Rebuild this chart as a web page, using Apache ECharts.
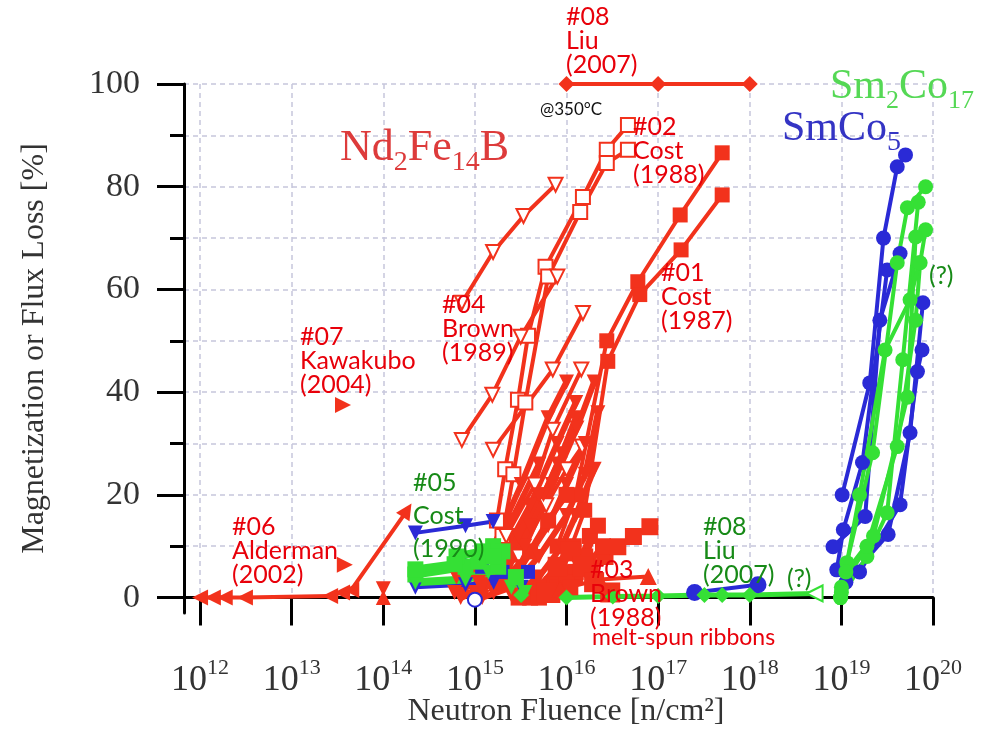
<!DOCTYPE html>
<html>
<head>
<meta charset="utf-8">
<script src="https://cdn.jsdelivr.net/npm/echarts@6/dist/echarts.min.js"></script>
<style>
  html, body { margin: 0; padding: 0; background: #fff; }
  #chart { width: 999px; height: 734px; }
</style>
</head>
<body>
<div id="chart"></div>
<script>
// axis ticks
const xTicks = [1e12, 1e13, 1e14, 1e15, 1e16, 1e17, 1e18, 1e19, 1e20]
const yTicks = [0, 10, 20, 30, 40, 50, 60, 70, 80, 90, 100]
const yLabels = [0, 20, 40, 60, 80, 100]

// Nd2Fe14B  [fluence n/cm2, loss %]
const liu07Nd = [[1e16, 100], [1e17, 100], [1e18, 100]]
const cost87A = [[7.9e15, 10], [1.26e16, 20], [2.75e16, 50], [6.0e16, 61.5], [1.74e17, 74.5], [5.0e17, 86.6]]
const cost87B = [[8.9e15, 5], [1.58e16, 17], [2.82e16, 46], [6.3e16, 59], [1.78e17, 67.7], [5.0e17, 78.4]]
const cost87C = [[4.0e15, 1], [7.0e15, 2.5], [1.23e16, 4.1], [1.82e16, 6.0], [2.63e16, 8.0], [3.63e16, 9.9], [5.37e16, 11.9], [8.13e16, 13.8]]
const cost88A = [[1.74e15, 15], [2.14e15, 25], [2.95e15, 38.5], [3.8e15, 51], [5.9e15, 64.4], [1.51e16, 78], [2.75e16, 87.2], [4.68e16, 92]]
const cost88B = [[2.0e15, 12], [2.63e15, 24], [3.55e15, 38], [6.3e15, 62.5], [1.41e16, 75.1], [2.75e16, 84.6], [4.68e16, 87.2]]
const brown89A = [[7.2e14, 57.4], [1.58e15, 67.3], [3.39e15, 74.3], [7.59e15, 80.4]]
const brown89B = [[7.2e14, 30.7], [1.55e15, 39.5], [3.16e15, 50.8], [7.94e15, 62.5]]
const brown89C = [[1.58e15, 28.8], [7.08e15, 44.4], [1.51e16, 55.4]]
const brown89D = [[2.2e15, 12], [4.5e15, 22], [7.08e15, 32.7], [1.45e16, 44.4]]
const brown89E = [[3.0e15, 8], [6.0e15, 18], [1.0e16, 25], [1.48e16, 29.4]]
const ndDenseA = [[8e14, 3], [1.6e15, 10], [3.2e15, 22], [6.3e15, 35], [1.0e16, 42]]
const ndDenseB = [[1.0e15, 1], [2.0e15, 8], [4.0e15, 18], [7.9e15, 30], [1.26e16, 38]]
const ndDenseC = [[1.6e15, 1], [3.2e15, 6], [6.3e15, 14], [1.0e16, 22], [1.6e16, 30]]
const ndDenseD = [[2.5e15, 0.5], [5.0e15, 4], [8.9e15, 10], [1.26e16, 16], [2.0e16, 25]]
const ndDenseE = [[6.3e14, 4], [1.26e15, 8], [2.5e15, 15], [5.0e15, 26]]
const ndDenseF = [[4.0e15, 0], [7.9e15, 2], [1.26e16, 5], [1.8e16, 12]]
const ndDenseG = [[1.3e15, 2], [2.2e15, 5], [3.5e15, 12], [5.6e15, 20], [8.9e15, 28], [1.26e16, 35]]
const ndDenseH = [[2e15, 3], [4e15, 9], [6.3e15, 15], [1e16, 20]]
const ndDenseI = [[9e14, 0], [1.8e15, 4], [3.5e15, 10], [7e15, 22], [1.3e16, 33], [2e16, 42]]
const ndDenseJ = [[1.2e15, 0], [2.5e15, 2], [5e15, 8], [1e16, 16], [1.6e16, 24], [2.2e16, 36]]
const ndDenseK = [[5e15, 0], [1e16, 3], [1.6e16, 8], [2.2e16, 14]]
const ndDenseL = [[7e15, 0.5], [1.1e16, 2], [1.6e16, 6], [2.5e16, 10]]
const ndDenseM = [[6e14, 1], [1.1e15, 3], [2e15, 7], [4e15, 14], [8e15, 26]]
const ndDenseN = [[7e14, 0], [1.2e15, 2], [2e15, 6], [3e15, 12], [5e15, 20]]
const ndDenseO = [[3e15, 0], [5e15, 2], [8e15, 6], [1.2e16, 10]]
const ndBlob = [[6e15, 1], [8e15, 6], [1.1e16, 9], [1.5e16, 6], [2e16, 3], [3e16, 1]]
const brown88 = [[8.5e15, 1.6], [2.3e16, 3.5], [7.8e16, 4.1]]
const alderman02 = [[1e12, 0], [1.38e12, 0], [1.86e12, 0], [3.09e12, 0], [2.63e13, 0.3], [3.55e13, 1], [4.47e13, 1.5], [1.82e14, 17]]
const alderman02b = [[3.8e13, 6.4]]
const kawakubo04 = [[3.63e13, 37.5]]
const hourglassTop = [[1e14, 1.7]]
const hourglassBottom = [[1e14, 0]]

// Cost 1990 cluster
const cost90BlueA = [[2.24e14, 12.6], [7.9e14, 14.0], [1.58e15, 14.8]]
const cost90BlueB = [[2.24e14, 2], [7.9e14, 2.5], [1.6e15, 3], [3.2e15, 2]]
const cost90BlueC = [[6.3e14, 8], [1.2e15, 6], [2.0e15, 5], [3.8e15, 5]]
const cost90GreenA = [[2.24e14, 4.5], [7.9e14, 6], [1.58e15, 10], [2.0e15, 9]]
const cost90GreenB = [[2.24e14, 3], [7.9e14, 3.5], [1.4e15, 5], [2.5e15, 2], [3.5e15, 1]]
const cost90GreenC = [[6.3e14, 8], [1.2e15, 9], [1.8e15, 6], [2.8e15, 4]]
const cost90GreenD = [[2.24e14, 5.5], [6e14, 6.5], [1.1e15, 7], [1.6e15, 8]]
const blueOpen = [[1.0e15, -0.4]]
const liu07Blue = [[2.5e17, 1], [1.23e18, 2.5]]
const liu07Sm = [[3.2e15, 0.5], [1e16, 0], [3.2e16, 0.2], [1e17, 0.3], [3.2e17, 0.5], [5e17, 0.5], [1e18, 0.5], [5.1e18, 0.8]]

// SmCo5
const smco5A = [[1.02e19, 20], [2.04e19, 41.8], [2.88e19, 70], [4.07e19, 83.9], [5.01e19, 86.2]]
const smco5B = [[8.9e18, 5.4], [1.05e19, 13.2], [1.7e19, 26.3], [3.16e19, 63.8]]
const smco5C = [[8.1e18, 9.9], [1.82e19, 15.8], [2.63e19, 54], [4.37e19, 67]]
const smco5D = [[1.12e19, 3], [3.24e19, 12.3], [5.62e19, 32.1], [7.76e19, 57.4]]
const smco5E = [[1.58e19, 5], [4.37e19, 18.1], [6.76e19, 44], [7.59e19, 48.2]]

// Sm2Co17
const sm2co17A = [[9.8e18, 0], [1.15e19, 6.8], [2.19e19, 28.2], [4.07e19, 65.2], [5.25e19, 75.9], [8.3e19, 80]]
const sm2co17B = [[9.8e18, 0], [1.9e19, 8], [3.16e19, 16.5], [4.68e19, 46.3], [6.9e19, 77]]
const sm2co17C = [[1e19, 2], [1.9e19, 10], [4.07e19, 29.4], [6.46e19, 54], [7.24e19, 65.2], [8.3e19, 71.6]]
const sm2co17D = [[1.12e19, 5], [2.24e19, 12], [5.25e19, 39], [6.46e19, 70.2]]
const sm2co17E = [[1e19, 1], [1.58e19, 20], [3.0e19, 48.2], [5.62e19, 58], [7.08e19, 65.2]]

const RED = "#f2321c"
const BLUE = "#2a2ad6"
const GREEN = "#35e035"
const SERIF = "Liberation Serif"
const SANS = "Lato"

function ln(data, color, symbol, size, rotate, width) {
  return {
    type: "line",
    data: data,
    symbol: symbol,
    symbolSize: size,
    symbolRotate: rotate || 0,
    showAllSymbol: true,
    clip: false,
    animation: false,
    lineStyle: { color: color, width: width == null ? 4 : width },
    itemStyle: { color: color, borderWidth: 2 },
  }
}

const series = [
  // red
  ln(liu07Nd, RED, "diamond", 16),
  ln(cost87A, RED, "rect", 15),
  ln(cost87B, RED, "rect", 15),
  ln(cost87C, RED, "rect", 17),
  ln(cost88A, RED, "emptyRect", 14),
  ln(cost88B, RED, "emptyRect", 14),
  ln(brown89A, RED, "emptyTriangle", 14, 180),
  ln(brown89B, RED, "emptyTriangle", 14, 180),
  ln(brown89C, RED, "emptyTriangle", 14, 180),
  ln(brown89D, RED, "emptyTriangle", 14, 180),
  ln(brown89E, RED, "emptyTriangle", 14, 180),
  ln(ndDenseA, RED, "triangle", 15, 180, 6),
  ln(ndDenseB, RED, "triangle", 15, 180, 6),
  ln(ndDenseC, RED, "triangle", 15, 180, 6),
  ln(ndDenseD, RED, "triangle", 15, 180, 6),
  ln(ndDenseE, RED, "triangle", 15, 180, 6),
  ln(ndDenseF, RED, "rect", 16, 0, 6),
  ln(ndDenseG, RED, "triangle", 15, 180, 6),
  ln(ndDenseH, RED, "rect", 16, 0, 6),
  ln(ndDenseI, RED, "triangle", 15, 180, 6),
  ln(ndDenseJ, RED, "triangle", 15, 180, 6),
  ln(ndDenseK, RED, "rect", 16, 0, 6),
  ln(ndDenseL, RED, "rect", 16, 0, 6),
  ln(ndDenseM, RED, "triangle", 15, 180, 6),
  ln(ndDenseN, RED, "triangle", 15, 180, 7),
  ln(ndDenseO, RED, "rect", 16, 0, 7),
  ln(ndBlob, RED, "rect", 20, 0, 10),
  ln(brown88, RED, "triangle", 17),
  Object.assign(ln(alderman02, RED, "triangle", 16), {
    symbolRotate: (v, p) => (p.dataIndex === alderman02.length - 1 ? -33 : 90),
  }),
  ln(alderman02b, RED, "triangle", 16, -90),
  ln(kawakubo04, RED, "triangle", 16, -90),
  ln(hourglassTop, RED, "triangle", 15, 180),
  ln(hourglassBottom, RED, "triangle", 15, 0),
  // blue
  ln(cost90BlueA, BLUE, "triangle", 15, 180),
  ln(cost90BlueB, BLUE, "triangle", 15, 180),
  ln(cost90BlueC, BLUE, "rect", 14),
  ln(blueOpen, BLUE, "emptyCircle", 14),
  ln(liu07Blue, BLUE, "circle", 17),
  ln(smco5A, BLUE, "circle", 15),
  ln(smco5B, BLUE, "circle", 15),
  ln(smco5C, BLUE, "circle", 15),
  ln(smco5D, BLUE, "circle", 15),
  ln(smco5E, BLUE, "circle", 15),
  // green
  ln(cost90GreenA, GREEN, "rect", 16, 0, 8),
  ln(cost90GreenB, GREEN, "triangle", 15, 180, 8),
  ln(cost90GreenC, GREEN, "rect", 16, 0, 8),
  ln(cost90GreenD, GREEN, "rect", 16, 0, 8),
  Object.assign(ln(liu07Sm, GREEN, "diamond", 16, 0, 5), {
    symbol: (v, p) => (p.dataIndex === liu07Sm.length - 1 ? "emptyTriangle" : "diamond"),
    symbolRotate: (v, p) => (p.dataIndex === liu07Sm.length - 1 ? 90 : 0),
  }),
  ln(sm2co17A, GREEN, "circle", 15, 0, 4),
  ln(sm2co17B, GREEN, "circle", 15, 0, 4),
  ln(sm2co17C, GREEN, "circle", 15, 0, 4),
  ln(sm2co17D, GREEN, "circle", 15, 0, 4),
  ln(sm2co17E, GREEN, "circle", 15, 0, 4),
]

function note(x, y, text, color, size, lh) {
  return {
    type: "text",
    x: x,
    y: y,
    z: 100,
    style: { text: text, fill: color, fontFamily: SANS, fontSize: size || 25, lineHeight: lh || 24 },
  }
}

function formula(x, y, parts, color, size, subSize, subPad) {
  return {
    type: "text",
    x: x,
    y: y,
    z: 90,
    style: {
      text: parts,
      fill: color,
      rich: {
        m: { fill: color, fontFamily: SERIF, fontSize: size, lineHeight: size, verticalAlign: "top" },
        s: { fill: color, fontFamily: SERIF, fontSize: subSize, lineHeight: subSize, verticalAlign: "top", padding: [subPad, 0, 0, 0] },
      },
    },
  }
}

const DARKRED = "#e8000a"
const DARKGREEN = "#178a17"

const graphics = [
  formula(340, 126, "{m|Nd}{s|2}{m|Fe}{s|14}{m|B}", "#dd3b3b", 44, 28, 23),
  formula(830, 66, "{m|Sm}{s|2}{m|Co}{s|17}", "#55d855", 42, 26, 22),
  formula(782, 108, "{m|SmCo}{s|5}", "#3434c4", 42, 28, 21),
  note(566, 5, "#08\nLiu\n(2007)", DARKRED),
  note(540, 101, "@350°C", "#111", 17, 18),
  note(633, 115, "#02\nCost\n(1988)", DARKRED),
  note(661, 261, "#01\nCost\n(1987)", DARKRED),
  note(442, 293, "#04\nBrown\n(1989)", DARKRED),
  note(300, 325, "#07\nKawakubo\n(2004)", DARKRED),
  note(232, 515, "#06\nAlderman\n(2002)", DARKRED),
  note(413, 466, "#05\nCost\n(1990)", DARKGREEN, 25, 33),
  note(590, 558, "#03\nBrown\n(1988)", DARKRED),
  note(592, 627, "melt-spun ribbons", DARKRED, 23, 22),
  note(703, 515, "#08\nLiu\n(2007)", DARKGREEN),
  note(787, 567, "(?)", DARKGREEN),
  note(929, 264, "(?)", DARKGREEN),
]

const chart = echarts.init(document.getElementById("chart"))

const option = {
  backgroundColor: "#fff",
  animation: false,
  grid: { left: 184, right: 66, top: 84, bottom: 121, outerBoundsMode: "none", containLabel: false },
  xAxis: {
    type: "log",
    logBase: 10,
    min: 6.68e11,
    max: 1e20,
    name: "Neutron Fluence [n/cm²]",
    nameLocation: "middle",
    nameGap: 83,
    nameMoveOverlap: false,
    nameTextStyle: { fontFamily: SERIF, fontSize: 32, color: "#333", padding: [0, 0, 0, 15] },
    axisLine: { lineStyle: { color: "#000", width: 3 } },
    axisTick: { customValues: xTicks, length: 28, lineStyle: { color: "#000", width: 3 } },
    axisLabel: {
      customValues: xTicks,
      margin: 44,
      formatter: (v) => "{a|10}{b|" + Math.round(Math.log10(v)) + "}",
      rich: {
        a: { fontFamily: SERIF, fontSize: 36, lineHeight: 36, color: "#333", verticalAlign: "top", padding: [6, 0, 0, 0] },
        b: { fontFamily: SERIF, fontSize: 22, lineHeight: 22, color: "#333", verticalAlign: "top" },
      },
    },
    splitLine: { show: true, lineStyle: { color: "#c6c6dc", width: 1.5, type: [5, 4] } },
  },
  yAxis: [
    {
      type: "value",
      min: -3,
      max: 100,
      name: "Magnetization or Flux Loss [%]",
      nameLocation: "middle",
      nameGap: 133,
      nameMoveOverlap: false,
      nameTextStyle: { fontFamily: SERIF, fontSize: 32, color: "#333" },
      axisLine: { show: true, lineStyle: { color: "#000", width: 3 } },
      axisTick: { show: true, customValues: yTicks, length: 14, lineStyle: { color: "#000", width: 3 } },
      axisLabel: { customValues: yLabels, margin: 44, fontFamily: SERIF, fontSize: 34, color: "#333" },
      splitLine: { show: true, lineStyle: { color: "#c6c6dc", width: 1.5, type: [5, 4] } },
    },
    {
      type: "value",
      min: -3,
      max: 100,
      position: "left",
      offset: 0,
      axisLine: { show: false },
      axisTick: { show: true, customValues: yLabels, length: 27, lineStyle: { color: "#000", width: 3 } },
      axisLabel: { show: false },
      splitLine: { show: false },
    },
  ],
  series: series,
  graphic: graphics,
}

chart.setOption(option)
</script>
</body>
</html>
